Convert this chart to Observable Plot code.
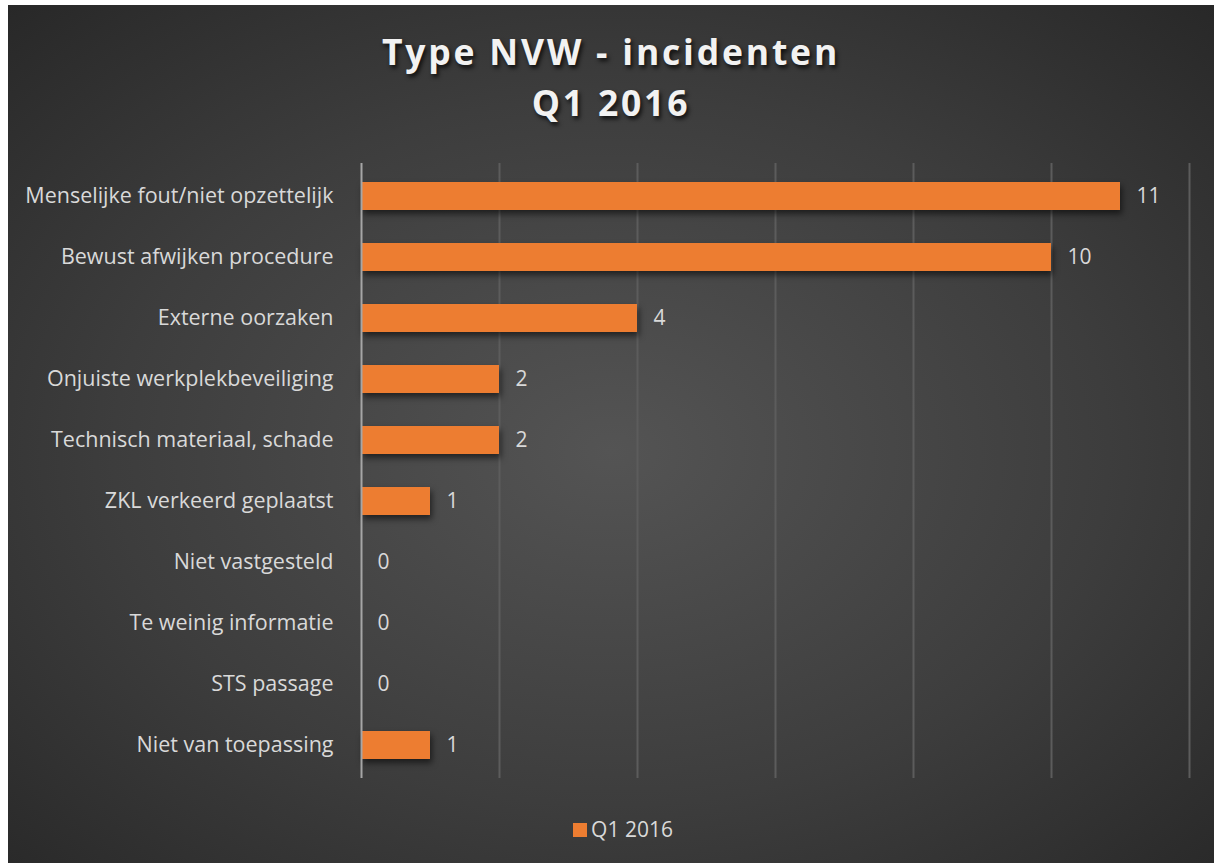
<!DOCTYPE html>
<html>
<head>
<meta charset="utf-8">
<script src="https://cdn.jsdelivr.net/npm/d3@7"></script>
<script src="https://cdn.jsdelivr.net/npm/@observablehq/plot@0.6"></script>
<style>
  html, body { margin: 0; padding: 0; background: #ffffff; }
  #panel {
    position: absolute; left: 8px; top: 5px; width: 1206px; height: 858px;
    background: radial-gradient(ellipse 75% 75% at 50% 52%, #545454 0%, #3d3d3d 55%, #262626 100%);
    font-family: "Open Sans", sans-serif;
    overflow: hidden;
  }
  #title {
    position: absolute; left: 0; top: 21px; width: 100%; text-align: center;
    color: #f2f2f2; font-weight: 700; font-size: 35.5px; line-height: 51px;
    letter-spacing: 2.8px;
    text-shadow: 2px 3px 4px rgba(0,0,0,0.75);
  }
  #chart { position: absolute; left: 0; top: 129px; }
  #legend {
    position: absolute; left: 12px; top: 810px; width: 100%; text-align: center;
    color: #d9d9d9; font-size: 21px;
  }
  #legend .sw { display: inline-block; width: 14px; height: 14px; background: #ED7D31; margin-right: 4px; vertical-align: 0px; }
</style>
</head>
<body>
<div id="panel">
  <div id="title">Type NVW - incidenten<br>Q1 2016</div>
  <div id="chart"></div>
  <div id="legend"><span class="sw"></span>Q1 2016</div>
</div>
<script>
const categories = [
  "Menselijke fout/niet opzettelijk",
  "Bewust afwijken procedure",
  "Externe oorzaken",
  "Onjuiste werkplekbeveiliging",
  "Technisch materiaal, schade",
  "ZKL verkeerd geplaatst",
  "Niet vastgesteld",
  "Te weinig informatie",
  "STS passage",
  "Niet van toepassing"
];
const values = [11, 10, 4, 2, 2, 1, 0, 0, 0, 1];
const gridTicks = [2, 4, 6, 8, 10, 12];
const seriesName = "Q1 2016";

const data = categories.map((c, i) => ({category: c, value: values[i]}));

const chart = Plot.plot({
  width: 1206,
  height: 666,
  marginLeft: 353,
  marginRight: 25,
  marginTop: 29,
  marginBottom: 22,
  style: {background: "transparent", fontFamily: "Open Sans, sans-serif"},
  x: {domain: [0, 12], axis: null},
  y: {domain: categories, paddingInner: 0.545, paddingOuter: 0.2725, label: null},
  marks: [
    Plot.ruleX(gridTicks, {stroke: "#5c5c5c", strokeWidth: 2}),
    Plot.barX(data, {y: "category", x: "value", fill: "#ED7D31", className: "bars"}),
    Plot.ruleX([0], {stroke: "#a6a6a6", strokeWidth: 2}),
    Plot.text(data, {y: "category", x: "value", text: d => String(d.value), textAnchor: "start", dx: 16, fill: "#d9d9d9", fontSize: 21}),
    Plot.axisY({tickSize: 0, tickPadding: 28, fontSize: 21.5, color: "#d9d9d9", label: null})
  ]
});
document.getElementById("chart").appendChild(chart);
chart.querySelectorAll("g.bars rect, .bars rect").forEach(r => {
  r.style.filter = "drop-shadow(2px 4px 3px rgba(0,0,0,0.55))";
});
</script>
</body>
</html>
